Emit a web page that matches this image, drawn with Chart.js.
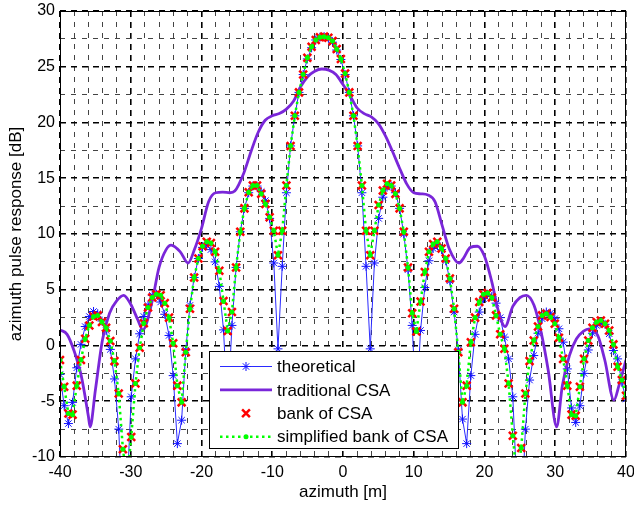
<!DOCTYPE html>
<html>
<head>
<meta charset="utf-8">
<script src="https://cdn.jsdelivr.net/npm/chart.js@4.4.1/dist/chart.umd.min.js"></script>
<style>
    html, body { margin: 0; padding: 0; background: #fff; }
    #wrap { width: 634px; height: 506px; }
</style>
</head>
<body>
<div id="wrap"><canvas id="pulseChart" width="634" height="506"></canvas></div>
<script>
// sample positions of the simulated pulse [m]
const azimuth = [
    -40.00, -39.41, -38.81, -38.22, -37.63, -37.04, -36.44, -35.85, -35.26, -34.67,
    -34.07, -33.48, -32.89, -32.30, -31.70, -31.11, -30.52, -29.93, -29.33, -28.74,
    -28.15, -27.56, -26.96, -26.37, -25.78, -25.19, -24.59, -24.00, -23.41, -22.81,
    -22.22, -21.63, -21.04, -20.44, -19.85, -19.26, -18.67, -18.07, -17.48, -16.89,
    -16.30, -15.70, -15.11, -14.52, -13.93, -13.33, -12.74, -12.15, -11.56, -10.96,
    -10.37, -9.78, -9.19, -8.59, -8.00, -7.41, -6.81, -6.22, -5.63, -5.04,
    -4.44, -3.85, -3.26, -2.67, -2.07, -1.48, -0.89, -0.30, 0.30, 0.89,
    1.48, 2.07, 2.67, 3.26, 3.85, 4.44, 5.04, 5.63, 6.22, 6.81,
    7.41, 8.00, 8.59, 9.19, 9.78, 10.37, 10.96, 11.56, 12.15, 12.74,
    13.33, 13.93, 14.52, 15.11, 15.70, 16.30, 16.89, 17.48, 18.07, 18.67,
    19.26, 19.85, 20.44, 21.04, 21.63, 22.22, 22.81, 23.41, 24.00, 24.59,
    25.19, 25.78, 26.37, 26.96, 27.56, 28.15, 28.74, 29.33, 29.93, 30.52,
    31.11, 31.70, 32.30, 32.89, 33.48, 34.07, 34.67, 35.26, 35.85, 36.44,
    37.04, 37.63, 38.22, 38.81, 39.41, 40.00
];

const theoretical = [
    -2.6, -5.4, -7.0, -5.1, -2.0, 0.1, 1.7, 2.6, 3.05, 2.85,
    2.2, 1.35, -0.35, -3.0, -7.5, -16, -13, -4.6, -1.2, 1.05,
    2.6, 3.6, 4.5, 4.6, 3.9, 2.8, 0.9, -2.7, -8.8, -6.7,
    -0.4, 3.6, 6.1, 7.8, 8.8, 9.0, 8.6, 7.5, 5.3, 1.4,
    -6, 1.8, 7.0, 10.2, 12.3, 13.7, 14.3, 14.3, 13.8, 13.0,
    11.4, 7.4, -0.3, 7.1, 13.7, 17.9, 20.6, 22.7, 24.3, 25.7,
    26.7, 27.4, 27.65, 27.7, 27.6, 27.2, 26.5, 25.65, 24.3, 22.7,
    20.6, 17.9, 13.7, 7.1, -0.3, 7.4, 11.4, 13.3, 14.2, 14.3,
    13.7, 12.3, 10.0, 6.8, 1.8, -6, 1.35, 5.2, 7.6, 8.7,
    9.0, 8.6, 7.6, 5.8, 3.0, -0.4, -6.6, -8.8, -2.7, 1.0,
    3.0, 4.2, 4.6, 4.4, 3.8, 2.5, 0.75, -1.2, -4.6, -13,
    -16, -7.5, -3.1, -0.9, 1.1, 2.4, 3.0, 2.9, 2.4, 1.5,
    0.3, -2.1, -5.6, -6.9, -5.4, -2.5, -0.4, 1.1, 1.8, 2.0,
    1.9, 1.05, -0.45, -1.2, -3.3, -4.8
];

const bankCSA = [
    -1.3, -3.7, -6.1, -6.2, -3.6, -1.3, 0.6, 1.8, 2.6, 2.7,
    2.1, 1.6, 0.4, -1.4, -4.3, -9.3, -12, -8.2, -3.4, -0.2,
    2.0, 3.4, 4.3, 4.6, 4.5, 3.8, 2.5, 0.2, -3.6, -5.1,
    -0.6, 3.3, 6.1, 7.8, 8.9, 9.3, 9.2, 8.4, 6.7, 4.0,
    1.3, 3.0, 7.0, 10.2, 12.3, 13.75, 14.35, 14.35, 13.6, 12.7,
    11.5, 10.3, 8.1, 10.3, 14.35, 17.9, 20.6, 22.7, 24.3, 25.8,
    26.8, 27.4, 27.65, 27.7, 27.6, 27.3, 26.6, 25.7, 24.4, 22.7,
    20.6, 17.9, 14.35, 10.3, 8.1, 10.3, 12.6, 13.9, 14.5, 14.35,
    13.6, 12.3, 10.2, 7.0, 2.9, 1.25, 3.95, 6.6, 8.4, 9.1,
    9.3, 8.7, 7.8, 6.0, 3.3, -0.6, -5.1, -3.6, 0.3, 2.5,
    3.9, 4.6, 4.7, 4.3, 2.7, 1.0, -0.3, -3.4, -8.1, -12,
    -9.2, -4.3, -1.4, 0.45, 1.7, 2.7, 2.85, 2.55, 1.95, 0.7,
    -1.2, -3.6, -6.2, -6.3, -3.7, -1.2, 0.45, 1.6, 2.1, 2.25,
    1.95, 1.35, 0.1, -1.9, -3.1, -4.5
];

// the green dotted curve lies on the red crosses
const simplifiedBank = bankCSA.slice();

// traditional CSA is a smooth curve, read at its own positions
const tradAzimuth = [
    -40, -39, -38, -37, -36, -35.75, -35, -34, -33, -32,
    -31, -30, -29, -28.3, -27, -26, -25, -24.3, -23, -21.9,
    -21, -20, -19, -18, -17, -16, -15.3, -14, -13, -12,
    -11, -10, -9, -8, -7, -6, -5, -4, -3, -2,
    -1, 0, 1, 2, 3, 4, 5, 6, 7, 8,
    9, 10, 11, 12, 13, 14, 15, 16.4, 17, 18,
    19, 20, 21, 22, 22.9, 24, 25, 25.9, 27, 28,
    29, 30.2, 31, 32, 33, 34, 34.8, 36, 37, 38.3,
    39, 40
];
const traditionalCSA = [
    1.4, 1.0, -0.5, -2.7, -6.3, -7.3, -4.0, 0.5, 2.9, 4.0,
    4.5, 3.7, 2.3, 1.4, 3.9, 7.0, 8.6, 9.0, 8.4, 7.4,
    8.6, 10.5, 12.9, 13.7, 13.75, 13.7, 13.85, 15.5, 17.4, 19.1,
    20.2, 20.6, 20.8, 21.2, 21.9, 23.2, 24.1, 24.6, 24.8, 24.7,
    24.3, 23.4, 22.4, 21.3, 20.8, 20.5, 19.9, 18.8, 17.4, 15.9,
    14.5, 13.7, 13.6, 13.5, 12.9, 10.8, 8.7, 7.4, 7.8, 8.8,
    8.9, 8.0, 5.8, 3.0, 1.7, 3.5, 4.3, 4.5, 3.6, 1.2,
    -2.2, -7.3, -3.6, -0.9, 0.6, 1.3, 1.5, 0.9, -1.3, -4.9,
    -3.6, -1.3
];

const xTickLabels = [-40, -30, -20, -10, 0, 10, 20, 30, 40];
const yTickLabels = [-10, -5, 0, 5, 10, 15, 20, 25, 30];

const FONT = "'Liberation Sans', Arial, sans-serif";

function pairs(xs, ys) {
    return xs.map((x, i) => ({ x: x, y: ys[i] }));
}

function isMajor(value, labels) {
    return labels.some(v => Math.abs(v - value) < 1e-6);
}

const frameBox = {
    id: 'frameBox',
    afterDatasetsDraw(chart) {
        const { ctx, chartArea } = chart;
        ctx.save();
        ctx.strokeStyle = '#000';
        ctx.lineWidth = 1;
        ctx.setLineDash([]);
        ctx.strokeRect(chartArea.left + 0.5, chartArea.top + 0.5,
            chartArea.right - chartArea.left - 1, chartArea.bottom - chartArea.top - 1);
        ctx.restore();
    }
};

const legendBox = {
    id: 'legendBox',
    afterDraw(chart) {
        const ctx = chart.ctx;
        const left = 209.5, top = 351.5, w = 249, h = 97;
        ctx.save();
        ctx.fillStyle = '#fff';
        ctx.fillRect(left, top, w, h);
        ctx.strokeStyle = '#000';
        ctx.lineWidth = 1;
        ctx.strokeRect(left, top, w, h);

        const entries = [0, 1, 2, 3].map(i => chart.data.datasets.find(d => d.legendRow === i));
        entries.forEach((ds, k) => {
            const y = 366.5 + k * 23.4;
            if (ds.showLine !== false) {
                ctx.beginPath();
                ctx.setLineDash(ds.borderDash || []);
                ctx.lineWidth = ds.borderWidth;
                ctx.strokeStyle = ds.borderColor;
                ctx.moveTo(220, y);
                ctx.lineTo(272, y);
                ctx.stroke();
                ctx.setLineDash([]);
            }
            if (ds.pointRadius > 0) {
                ctx.strokeStyle = ds.pointBorderColor;
                ctx.fillStyle = ds.pointBackgroundColor;
                ctx.lineWidth = ds.pointBorderWidth;
                Chart.helpers.drawPoint(ctx, {
                    pointStyle: ds.pointStyle,
                    radius: ds.pointRadius,
                    rotation: 0,
                    borderWidth: ds.pointBorderWidth
                }, 246, y);
            }
            ctx.fillStyle = '#000';
            ctx.font = '17px ' + FONT;
            ctx.textBaseline = 'middle';
            ctx.textAlign = 'left';
            ctx.fillText(ds.label, 277, y + 1);
        });
        ctx.restore();
    }
};

const ctx = document.getElementById('pulseChart').getContext('2d');
const pulseChart = new Chart(ctx, {
    type: 'scatter',
    data: {
        datasets: [
            {
                label: 'simplified bank of CSA',
                legendRow: 3,
                order: 0,
                data: pairs(azimuth, simplifiedBank),
                showLine: true,
                borderColor: '#00ff00',
                borderWidth: 2.5,
                borderDash: [2.5, 3.5],
                pointStyle: 'circle',
                pointRadius: 2.5,
                pointBorderWidth: 0,
                pointBorderColor: '#00ff00',
                pointBackgroundColor: '#00ff00'
            },
            {
                label: 'bank of CSA',
                legendRow: 2,
                order: 1,
                data: pairs(azimuth, bankCSA),
                showLine: false,
                pointStyle: 'crossRot',
                pointRadius: 5.5,
                pointBorderWidth: 2.5,
                pointBorderColor: '#ff0000',
                pointBackgroundColor: '#ff0000'
            },
            {
                label: 'traditional CSA',
                legendRow: 1,
                order: 2,
                data: pairs(tradAzimuth, traditionalCSA),
                showLine: true,
                cubicInterpolationMode: 'monotone',
                borderColor: '#7a26d9',
                borderWidth: 2.8,
                pointRadius: 0
            },
            {
                label: 'theoretical',
                legendRow: 0,
                order: 3,
                data: pairs(azimuth, theoretical),
                showLine: true,
                borderColor: '#2a2aff',
                borderWidth: 1,
                pointStyle: 'star',
                pointRadius: 4.5,
                pointBorderWidth: 1,
                pointBorderColor: '#1010ff',
                pointBackgroundColor: '#1010ff'
            }
        ]
    },
    options: {
        responsive: false,
        animation: false,
        devicePixelRatio: 1,
        layout: { padding: { left: 0, right: 8, top: 11, bottom: 0 } },
        plugins: {
            legend: { display: false },
            tooltip: { enabled: false }
        },
        scales: {
            x: {
                type: 'linear',
                min: -40,
                max: 40,
                afterFit: scale => {
                    scale.height = 49;
                    scale.paddingLeft = 0;
                    scale.paddingRight = 0;
                },
                ticks: {
                    stepSize: 2,
                    autoSkip: false,
                    maxRotation: 0,
                    padding: 6,
                    color: '#000',
                    font: { family: FONT, size: 16 },
                    callback: v => isMajor(v, xTickLabels) ? String(v) : ''
                },
                grid: {
                    drawTicks: false,
                    color: c => isMajor(c.tick.value, xTickLabels) ? '#000' : '#444',
                    lineWidth: c => isMajor(c.tick.value, xTickLabels) ? 1.6 : 1
                },
                border: {
                    display: false,
                    dash: c => isMajor(c.tick.value, xTickLabels) ? [6, 5] : [5, 6]
                },
                title: {
                    display: true,
                    text: 'azimuth [m]',
                    color: '#000',
                    font: { family: FONT, size: 17 },
                    padding: { top: 0, bottom: 3 }
                }
            },
            y: {
                type: 'linear',
                min: -10,
                max: 30,
                afterFit: scale => {
                    scale.width = 60;
                    scale.paddingTop = 0;
                    scale.paddingBottom = 0;
                },
                ticks: {
                    stepSize: 2.5,
                    autoSkip: false,
                    padding: 5,
                    color: '#000',
                    font: { family: FONT, size: 16 },
                    callback: v => isMajor(v, yTickLabels) ? String(v) : ''
                },
                grid: {
                    drawTicks: false,
                    color: c => isMajor(c.tick.value, yTickLabels) ? '#000' : '#444',
                    lineWidth: c => isMajor(c.tick.value, yTickLabels) ? 1.6 : 1
                },
                border: {
                    display: false,
                    dash: c => isMajor(c.tick.value, yTickLabels) ? [6, 5] : [5, 6]
                },
                title: {
                    display: true,
                    text: 'azimuth pulse response [dB]',
                    color: '#000',
                    font: { family: FONT, size: 17 },
                    padding: { top: 6, bottom: 0 }
                }
            }
        }
    },
    plugins: [frameBox, legendBox]
});
</script>
</body>
</html>
